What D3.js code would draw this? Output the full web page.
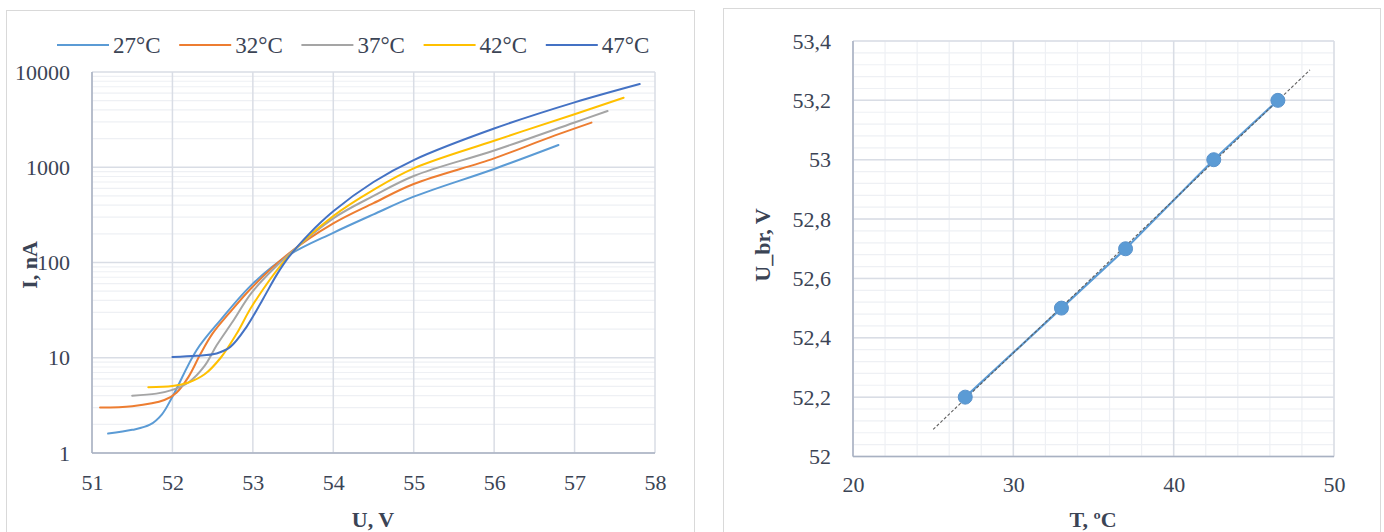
<!DOCTYPE html>
<html>
<head>
<meta charset="utf-8">
<script src="https://cdnjs.cloudflare.com/ajax/libs/d3/7.8.5/d3.min.js"></script>
<style>
  body { margin: 0; background: #fff; }
  svg text { font-family: 'Liberation Serif', 'Times New Roman', serif !important; fill: #3b4455; }
</style>
</head>
<body>
<script>
// ---- left chart data: I(U) for each temperature ----
var seriesNames = ["27°C", "32°C", "37°C", "42°C", "47°C"];
var seriesColors = ["#5B9BD5", "#ED7D31", "#A5A5A5", "#FFC000", "#4472C4"];

var u27 = [51.2, 51.5, 51.72, 51.87, 52.0, 52.3, 52.6, 53.0, 53.45, 54.0, 54.5, 55.0, 56.0, 56.8];
var i27 = [1.6, 1.75, 1.98, 2.55, 3.9, 12, 25, 60, 120, 205, 320, 491, 960, 1713];

var u32 = [51.1, 51.5, 51.9, 52.05, 52.2, 52.35, 52.5, 52.7, 53.0, 53.45, 54.0, 54.5, 55.0, 56.0, 56.65, 57.21];
var i32 = [3.0, 3.1, 3.6, 4.3, 6.3, 11, 18, 29, 56, 125, 257, 420, 667, 1240, 2000, 2940];

var u37 = [51.5, 51.8, 52.0, 52.2, 52.4, 52.55, 52.75, 53.0, 53.45, 54.0, 54.5, 55.0, 56.0, 57.0, 57.41];
var i37 = [4.0, 4.2, 4.6, 5.5, 8.2, 13.5, 24, 50, 122, 291, 500, 810, 1500, 2950, 3890];

var u42 = [51.7, 52.0, 52.2, 52.4, 52.6, 52.8, 53.0, 53.45, 54.0, 54.5, 55.0, 56.0, 57.0, 57.61];
var i42 = [4.9, 5.05, 5.5, 6.7, 10, 18, 36, 118, 308, 580, 975, 1900, 3600, 5370];

var u47 = [52.0, 52.3, 52.55, 52.72, 52.92, 53.13, 53.3, 53.45, 53.7, 54.0, 54.5, 55.0, 56.0, 57.0, 57.81];
var i47 = [10.2, 10.5, 11.1, 13, 21, 42, 75, 115, 200, 345, 700, 1190, 2550, 4800, 7480];

var uTicks = [51, 52, 53, 54, 55, 56, 57, 58];
var iTicks = [1, 10, 100, 1000, 10000];

// ---- right chart data: breakdown voltage vs temperature ----
var tempT = [27, 33, 37, 42.5, 46.5];
var ubr = [52.2, 52.5, 52.7, 53.0, 53.2];
var tTicks = [20, 30, 40, 50];
var ubrTicks = [52, 52.2, 52.4, 52.6, 52.8, 53, 53.2, 53.4];

var gridMajor = "#d9dde5", gridMinor = "#eef0f4", axisColor = "#a8b1c2";
var serif = "'Liberation Serif', 'Times New Roman', serif";
var commaFmt = d3.formatLocale({decimal: ",", thousands: " ", grouping: [3], currency: ["", ""]}).format("~f");

var svg = d3.select("body").append("svg")
    .attr("width", 1384)
    .attr("height", 532)
    .attr("font-family", serif);

// panel frames
svg.append("rect").attr("x", 6.5).attr("y", 10.5).attr("width", 688).attr("height", 540)
    .attr("fill", "none").attr("stroke", "#d9d9d9");
svg.append("rect").attr("x", 723.5).attr("y", 8.5).attr("width", 657).attr("height", 540)
    .attr("fill", "none").attr("stroke", "#d9d9d9");

function styleAxis(a) {
  a.attr("font-family", serif).attr("font-size", 22);
  a.select(".domain").remove();
  a.selectAll("text").attr("fill", "#3b4455");
}

function leftChart() {
  var x = d3.scaleLinear().domain([51, 58]).range([92, 655]);
  var y = d3.scaleLog().domain([1, 10000]).range([453, 72]);
  var g = svg.append("g");

  // minor log gridlines
  g.selectAll(".minor").data(y.ticks().filter(function(d) { return iTicks.indexOf(d) < 0; }))
    .enter().append("line")
      .attr("x1", x(51)).attr("x2", x(58))
      .attr("y1", function(d) { return y(d); }).attr("y2", function(d) { return y(d); })
      .attr("stroke", gridMinor).attr("stroke-width", 1.2);
  g.selectAll(".hmaj").data(iTicks).enter().append("line")
      .attr("x1", x(51)).attr("x2", x(58))
      .attr("y1", function(d) { return y(d); }).attr("y2", function(d) { return y(d); })
      .attr("stroke", gridMajor).attr("stroke-width", 1.5);
  g.selectAll(".vmaj").data(uTicks).enter().append("line")
      .attr("y1", y(1)).attr("y2", y(10000))
      .attr("x1", function(d) { return x(d); }).attr("x2", function(d) { return x(d); })
      .attr("stroke", gridMajor).attr("stroke-width", 1.5);

  // axes lines
  g.append("line").attr("x1", x(51)).attr("x2", x(58)).attr("y1", y(1)).attr("y2", y(1))
      .attr("stroke", axisColor).attr("stroke-width", 1.5);
  g.append("line").attr("x1", x(51)).attr("x2", x(51)).attr("y1", y(1)).attr("y2", y(10000))
      .attr("stroke", axisColor).attr("stroke-width", 1.5);

  g.append("g").attr("transform", "translate(0," + y(1) + ")")
      .call(d3.axisBottom(x).tickValues(uTicks).tickSize(0).tickPadding(21).tickFormat(d3.format("d")))
      .call(styleAxis);
  g.append("g").attr("transform", "translate(" + x(51) + ",0)")
      .call(d3.axisLeft(y).tickValues(iTicks).tickSize(0).tickPadding(22).tickFormat(d3.format("d")))
      .call(styleAxis);

  // curves
  var us = [u27, u32, u37, u42, u47], is = [i27, i32, i37, i42, i47];
  var line = d3.line()
      .x(function(d) { return x(d[0]); })
      .y(function(d) { return y(d[1]); })
      .curve(d3.curveCatmullRom.alpha(0.5));
  seriesNames.forEach(function(name, k) {
    var pts = us[k].map(function(u, j) { return [u, is[k][j]]; });
    g.append("path").datum(pts)
      .attr("d", line)
      .attr("fill", "none")
      .attr("stroke", seriesColors[k])
      .attr("stroke-width", 2)
      .attr("stroke-linecap", "round");
  });

  // legend
  var lg = g.selectAll(".leg").data(seriesNames).enter().append("g")
      .attr("transform", function(d, i) { return "translate(" + (57 + i * 122.2) + ",45)"; });
  lg.append("line").attr("x1", 0).attr("x2", 52).attr("y1", 0).attr("y2", 0)
      .attr("stroke", function(d, i) { return seriesColors[i]; }).attr("stroke-width", 2);
  lg.append("text").attr("x", 56).attr("y", 7.5).attr("font-size", 23).text(function(d) { return d; });

  // axis titles
  g.append("text").attr("transform", "translate(37,265) rotate(-90)")
      .attr("text-anchor", "middle").attr("font-size", 22).attr("font-weight", "bold").text("I, nA");
  g.append("text").attr("x", 373).attr("y", 527)
      .attr("text-anchor", "middle").attr("font-size", 22).attr("font-weight", "bold").text("U, V");
}

function rightChart() {
  var x = d3.scaleLinear().domain([20, 50]).range([853, 1334]);
  var y = d3.scaleLinear().domain([52, 53.4]).range([456.5, 41]);
  var g = svg.append("g");

  var xMinor = d3.range(20, 50.01, 2), yMinor = d3.range(0, 36).map(function(i) { return 52 + i * 0.04; });
  g.selectAll(".vmin").data(xMinor).enter().append("line")
      .attr("y1", y(52)).attr("y2", y(53.4))
      .attr("x1", function(d) { return x(d); }).attr("x2", function(d) { return x(d); })
      .attr("stroke", gridMinor).attr("stroke-width", 1.2);
  g.selectAll(".hmin").data(yMinor).enter().append("line")
      .attr("x1", x(20)).attr("x2", x(50))
      .attr("y1", function(d) { return y(d); }).attr("y2", function(d) { return y(d); })
      .attr("stroke", gridMinor).attr("stroke-width", 1.2);
  g.selectAll(".vmaj").data(tTicks).enter().append("line")
      .attr("y1", y(52)).attr("y2", y(53.4))
      .attr("x1", function(d) { return x(d); }).attr("x2", function(d) { return x(d); })
      .attr("stroke", gridMajor).attr("stroke-width", 1.5);
  g.selectAll(".hmaj").data(ubrTicks).enter().append("line")
      .attr("x1", x(20)).attr("x2", x(50))
      .attr("y1", function(d) { return y(d); }).attr("y2", function(d) { return y(d); })
      .attr("stroke", gridMajor).attr("stroke-width", 1.5);

  g.append("line").attr("x1", x(20)).attr("x2", x(50)).attr("y1", y(52)).attr("y2", y(52))
      .attr("stroke", axisColor).attr("stroke-width", 1.5);
  g.append("line").attr("x1", x(20)).attr("x2", x(20)).attr("y1", y(52)).attr("y2", y(53.4))
      .attr("stroke", axisColor).attr("stroke-width", 1.5);

  g.append("g").attr("transform", "translate(0," + y(52) + ")")
      .call(d3.axisBottom(x).tickValues(tTicks).tickSize(0).tickPadding(20))
      .call(styleAxis);
  g.append("g").attr("transform", "translate(" + x(20) + ",0)")
      .call(d3.axisLeft(y).tickValues(ubrTicks).tickSize(0).tickPadding(22).tickFormat(commaFmt))
      .call(styleAxis);

  // linear trendline (least squares), extended back and forward
  var mx = d3.mean(tempT), my = d3.mean(ubr);
  var sxy = d3.sum(tempT, function(t, i) { return (t - mx) * (ubr[i] - my); });
  var sxx = d3.sum(tempT, function(t) { return (t - mx) * (t - mx); });
  var slope = sxy / sxx, icpt = my - slope * mx;
  var tr = [25, 48.5];

  var pts = tempT.map(function(t, i) { return [t, ubr[i]]; });
  g.append("path").datum(pts)
      .attr("d", d3.line().x(function(d) { return x(d[0]); }).y(function(d) { return y(d[1]); }))
      .attr("fill", "none").attr("stroke", "#5B9BD5").attr("stroke-width", 2.2);
  g.append("line")
      .attr("x1", x(tr[0])).attr("y1", y(icpt + slope * tr[0]))
      .attr("x2", x(tr[1])).attr("y2", y(icpt + slope * tr[1]))
      .attr("stroke", "#5f5f5f").attr("stroke-width", 1.1).attr("stroke-dasharray", "3,2");
  g.selectAll(".pt").data(pts).enter().append("circle")
      .attr("cx", function(d) { return x(d[0]); })
      .attr("cy", function(d) { return y(d[1]); })
      .attr("r", 7)
      .attr("fill", "#5B9BD5").attr("stroke", "#5a93cc").attr("stroke-width", 1);

  g.append("text").attr("transform", "translate(770,245) rotate(-90)")
      .attr("text-anchor", "middle").attr("font-size", 22).attr("font-weight", "bold").text("U_br, V");
  g.append("text").attr("x", 1093).attr("y", 527)
      .attr("text-anchor", "middle").attr("font-size", 22).attr("font-weight", "bold").text("T, ºC");
}

leftChart();
rightChart();
</script>
</body>
</html>
